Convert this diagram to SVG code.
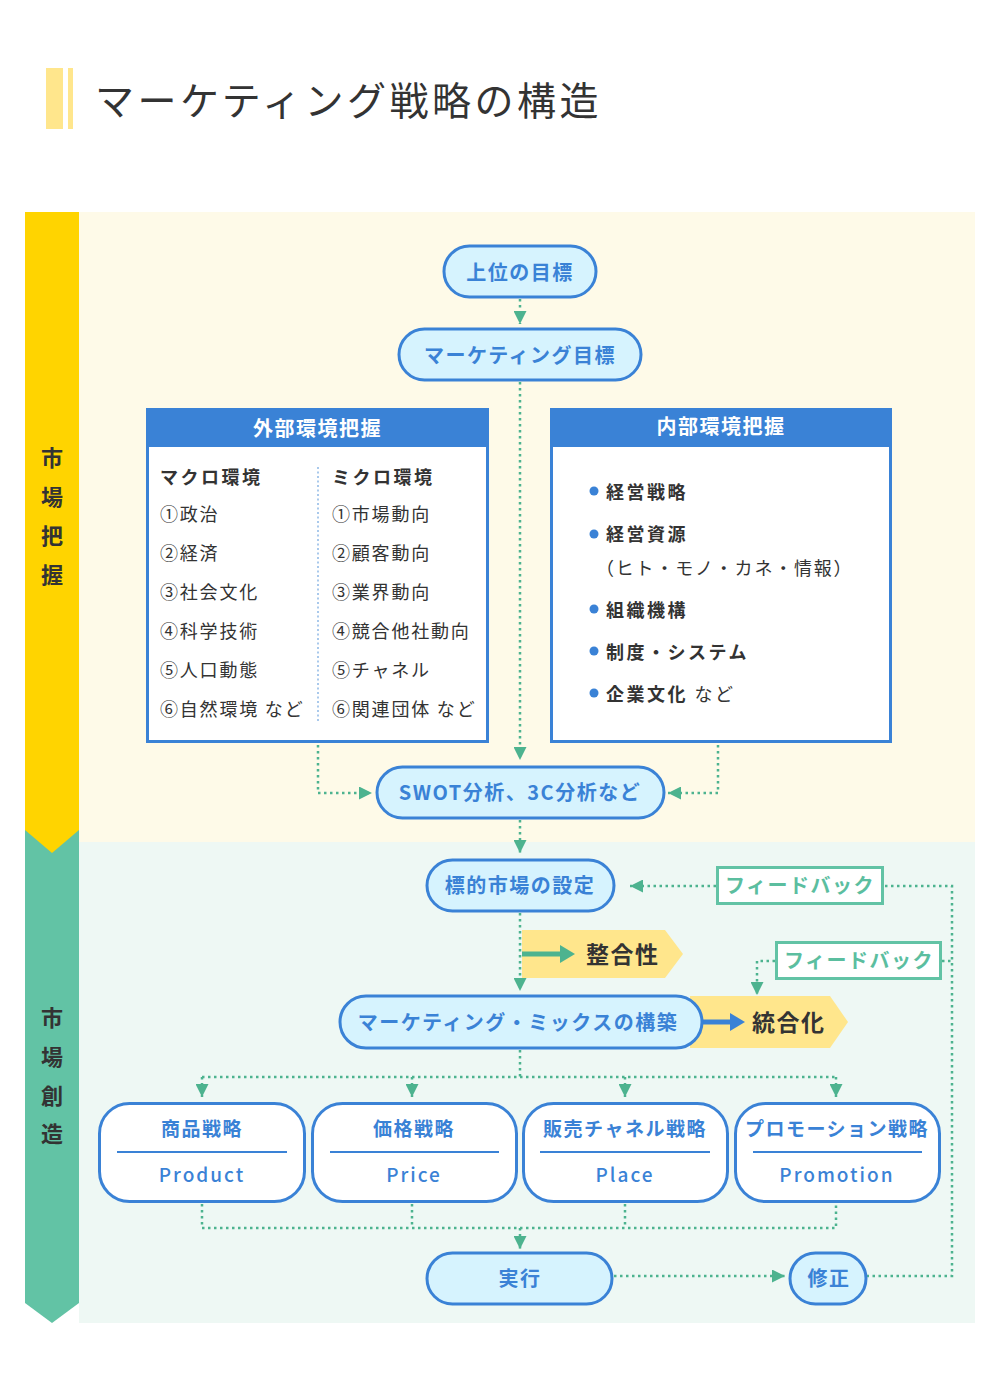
<svg xmlns="http://www.w3.org/2000/svg" width="1000" height="1396" viewBox="0 0 1000 1396">
<style>
text{font-family:"Noto Sans CJK JP","Noto Sans",sans-serif;}
.pill{fill:#D6F3FE;stroke:#3A82D6;stroke-width:3;}
.ptxt{fill:#3A82D6;font-size:20px;font-weight:700;letter-spacing:1.5px;text-anchor:middle;dominant-baseline:central;}
.box{fill:#fff;stroke:#3A82D6;stroke-width:3;}
.hdr{fill:#3A82D6;}
.htxt{fill:#fff;font-size:20px;font-weight:700;letter-spacing:1.5px;text-anchor:middle;dominant-baseline:central;}
.item{fill:#333;font-size:18px;letter-spacing:1.8px;dominant-baseline:central;}
.itemb{fill:#333;font-size:18px;font-weight:700;letter-spacing:2.5px;dominant-baseline:central;}
.side{fill:#333;font-size:22px;font-weight:700;text-anchor:middle;dominant-baseline:central;}
.dot{fill:none;stroke:#4DB38F;stroke-width:2.5;stroke-dasharray:2.5 3.5;}
.fb{fill:#fff;stroke:#62C3A5;stroke-width:3;}
.fbtxt{fill:#5BBE9F;font-size:20px;font-weight:700;letter-spacing:1.5px;text-anchor:middle;dominant-baseline:central;}
.yel{fill:#FFE68C;}
.ytxt{fill:#333;font-size:23px;font-weight:700;letter-spacing:1.5px;dominant-baseline:central;}
.mbox{fill:#fff;stroke:#3A82D6;stroke-width:3;}
.mj{fill:#3A82D6;font-size:19px;font-weight:700;letter-spacing:1.5px;text-anchor:middle;dominant-baseline:central;}
.me{fill:#3A82D6;font-size:19px;font-weight:500;letter-spacing:2px;text-anchor:middle;dominant-baseline:central;}
.sep{stroke:#3A82D6;stroke-width:2;}
</style>
<defs>
<marker id="ah" markerUnits="userSpaceOnUse" markerWidth="13" markerHeight="13" viewBox="0 0 10 10" refX="10" refY="5" orient="auto">
<path d="M0,0 L10,5 L0,10 z" fill="#4DB38F"/>
</marker>
</defs>
<rect width="1000" height="1396" fill="#fff"/>
<g id="title">
<rect x="46" y="68" width="17" height="61" fill="#FFE68C"/>
<rect x="68" y="68" width="5" height="61" fill="#FFE68C"/>
<text x="95" y="98" font-size="39" fill="#333" letter-spacing="3.5" dominant-baseline="central">マーケティング戦略の構造</text>
</g>
<g id="background">
<rect x="79" y="212" width="896" height="630" fill="#FEFAE8"/>
<rect x="79" y="842" width="896" height="481" fill="#EEF8F4"/>
<polygon points="25,830 79,830 79,1303 52,1323 25,1303" fill="#62C3A5"/>
<polygon points="25,212 79,212 79,830 52,853 25,830" fill="#FFD400"/>
<text class="side" x="52" y="456">市</text>
<text class="side" x="52" y="495">場</text>
<text class="side" x="52" y="534">把</text>
<text class="side" x="52" y="573">握</text>
<text class="side" x="52" y="1016">市</text>
<text class="side" x="52" y="1055">場</text>
<text class="side" x="52" y="1094">創</text>
<text class="side" x="52" y="1132">造</text>
</g>
<g id="connectors">
<path class="dot" d="M520,299 V324" marker-end="url(#ah)"/>
<path class="dot" d="M520,382 V760" marker-end="url(#ah)"/>
<path class="dot" d="M318,745 V793 H372" marker-end="url(#ah)"/>
<path class="dot" d="M718,745 V793 H668" marker-end="url(#ah)"/>
<path class="dot" d="M520,820 V853" marker-end="url(#ah)"/>
<path class="dot" d="M716,886 H630" marker-end="url(#ah)"/>
<path class="dot" d="M885,886 H952 V1276 H867"/>
<path class="dot" d="M520,913 V991" marker-end="url(#ah)"/>
<path class="dot" d="M775,961 H757 V995" marker-end="url(#ah)"/>
<path class="dot" d="M942,961 H952"/>
<path class="dot" d="M520,1050 V1077"/>
<path class="dot" d="M202,1077 H836"/>
<path class="dot" d="M202,1077 V1097" marker-end="url(#ah)"/>
<path class="dot" d="M412,1077 V1097" marker-end="url(#ah)"/>
<path class="dot" d="M625,1077 V1097" marker-end="url(#ah)"/>
<path class="dot" d="M836,1077 V1097" marker-end="url(#ah)"/>
<path class="dot" d="M202,1204 V1228 H836 V1204"/>
<path class="dot" d="M412,1204 V1228"/>
<path class="dot" d="M625,1204 V1228"/>
<path class="dot" d="M520,1228 V1249" marker-end="url(#ah)"/>
<path class="dot" d="M614,1276 H785" marker-end="url(#ah)"/>
</g>
<g id="n-goal-upper">
<rect class="pill" x="444" y="246" width="152" height="51" rx="25.5"/>
<text class="ptxt" x="520" y="271">上位の目標</text>
</g>
<g id="n-goal-marketing">
<rect class="pill" x="399" y="329" width="242" height="51" rx="25.5"/>
<text class="ptxt" x="520" y="354">マーケティング目標</text>
</g>
<g id="n-external">
<rect class="box" x="147.5" y="409.5" width="340" height="332"/>
<rect class="hdr" x="146" y="408" width="343" height="39"/>
<text class="htxt" x="317.5" y="427">外部環境把握</text>
<line x1="318" y1="467" x2="318" y2="722" stroke="#A9C9EC" stroke-width="2" stroke-dasharray="2 2.5"/>
<text class="itemb" x="160" y="476" letter-spacing="2">マクロ環境</text>
<text class="item" x="160" y="513">①政治</text>
<text class="item" x="160" y="552">②経済</text>
<text class="item" x="160" y="591">③社会文化</text>
<text class="item" x="160" y="630">④科学技術</text>
<text class="item" x="160" y="669">⑤人口動態</text>
<text class="item" x="160" y="708">⑥自然環境 など</text>
<text class="itemb" x="332" y="476" letter-spacing="2">ミクロ環境</text>
<text class="item" x="332" y="513">①市場動向</text>
<text class="item" x="332" y="552">②顧客動向</text>
<text class="item" x="332" y="591">③業界動向</text>
<text class="item" x="332" y="630">④競合他社動向</text>
<text class="item" x="332" y="669">⑤チャネル</text>
<text class="item" x="332" y="708">⑥関連団体 など</text>
</g>
<g id="n-internal">
<rect class="box" x="551.5" y="409.5" width="339" height="332"/>
<rect class="hdr" x="550" y="408" width="342" height="39"/>
<text class="htxt" x="721" y="425">内部環境把握</text>
<g fill="#3A82D6">
<circle cx="594" cy="491" r="4.5"/>
<circle cx="594" cy="534" r="4.5"/>
<circle cx="594" cy="609" r="4.5"/>
<circle cx="594" cy="651" r="4.5"/>
<circle cx="594" cy="693" r="4.5"/>
</g>
<text class="itemb" x="606" y="491">経営戦略</text>
<text class="itemb" x="606" y="533">経営資源</text>
<text class="item" x="596" y="567" letter-spacing="1.2">（ヒト・モノ・カネ・情報）</text>
<text class="itemb" x="606" y="609">組織機構</text>
<text class="itemb" x="606" y="651">制度・システム</text>
<text class="itemb" x="606" y="693">企業文化 <tspan font-weight="400">など</tspan></text>
</g>
<g id="n-swot">
<rect class="pill" x="377" y="767" width="287" height="51" rx="25.5"/>
<text class="ptxt" x="520" y="791" letter-spacing="1">SWOT分析、3C分析など</text>
</g>
<g id="n-target">
<rect class="pill" x="427" y="860" width="187" height="51" rx="25.5"/>
<text class="ptxt" x="520" y="884">標的市場の設定</text>
</g>
<g id="n-feedback1">
<rect class="fb" x="717.5" y="867.5" width="165" height="36"/>
<text class="fbtxt" x="800" y="884">フィードバック</text>
</g>
<g id="n-consistency">
<polygon class="yel" points="522,930 665,930 683,954 665,978 522,978"/>
<path d="M522,954 H562" stroke="#4DB38F" stroke-width="5"/>
<polygon points="560,945 575,954 560,963" fill="#4DB38F"/>
<text class="ytxt" x="586" y="953">整合性</text>
</g>
<g id="n-feedback2">
<rect class="fb" x="776.5" y="942.5" width="164" height="36"/>
<text class="fbtxt" x="859" y="959">フィードバック</text>
</g>
<g id="n-integration">
<polygon class="yel" points="690,996 830,996 848,1022 830,1048 690,1048"/>
<path d="M702,1022 H732" stroke="#3A82D6" stroke-width="5"/>
<polygon points="730,1013 745,1022 730,1031" fill="#3A82D6"/>
<text class="ytxt" x="752" y="1021">統合化</text>
</g>
<g id="n-mix">
<rect class="pill" x="340" y="996" width="362" height="52" rx="26"/>
<text class="ptxt" x="518" y="1021">マーケティング・ミックスの構築</text>
</g>
<g id="n-product">
<rect class="mbox" x="99.5" y="1103.5" width="205" height="98" rx="30"/>
<text class="mj" x="202" y="1127">商品戦略</text>
<line class="sep" x1="117" y1="1152" x2="287" y2="1152"/>
<text class="me" x="202" y="1173">Product</text>
</g>
<g id="n-price">
<rect class="mbox" x="312.5" y="1103.5" width="204" height="98" rx="30"/>
<text class="mj" x="414" y="1127">価格戦略</text>
<line class="sep" x1="330" y1="1152" x2="499" y2="1152"/>
<text class="me" x="414" y="1173">Price</text>
</g>
<g id="n-place">
<rect class="mbox" x="523.5" y="1103.5" width="204" height="98" rx="30"/>
<text class="mj" x="625" y="1127">販売チャネル戦略</text>
<line class="sep" x1="540" y1="1152" x2="710" y2="1152"/>
<text class="me" x="625" y="1173">Place</text>
</g>
<g id="n-promotion">
<rect class="mbox" x="735.5" y="1103.5" width="204" height="98" rx="30"/>
<text class="mj" x="837" y="1127" letter-spacing="0.5">プロモーション戦略</text>
<line class="sep" x1="753" y1="1152" x2="922" y2="1152"/>
<text class="me" x="837" y="1173">Promotion</text>
</g>
<g id="n-execute">
<rect class="pill" x="427" y="1253" width="185" height="51" rx="25.5"/>
<text class="ptxt" x="520" y="1277">実行</text>
</g>
<g id="n-fix">
<rect class="pill" x="790" y="1253" width="76" height="51" rx="25.5"/>
<text class="ptxt" x="829" y="1277">修正</text>
</g>
</svg>
